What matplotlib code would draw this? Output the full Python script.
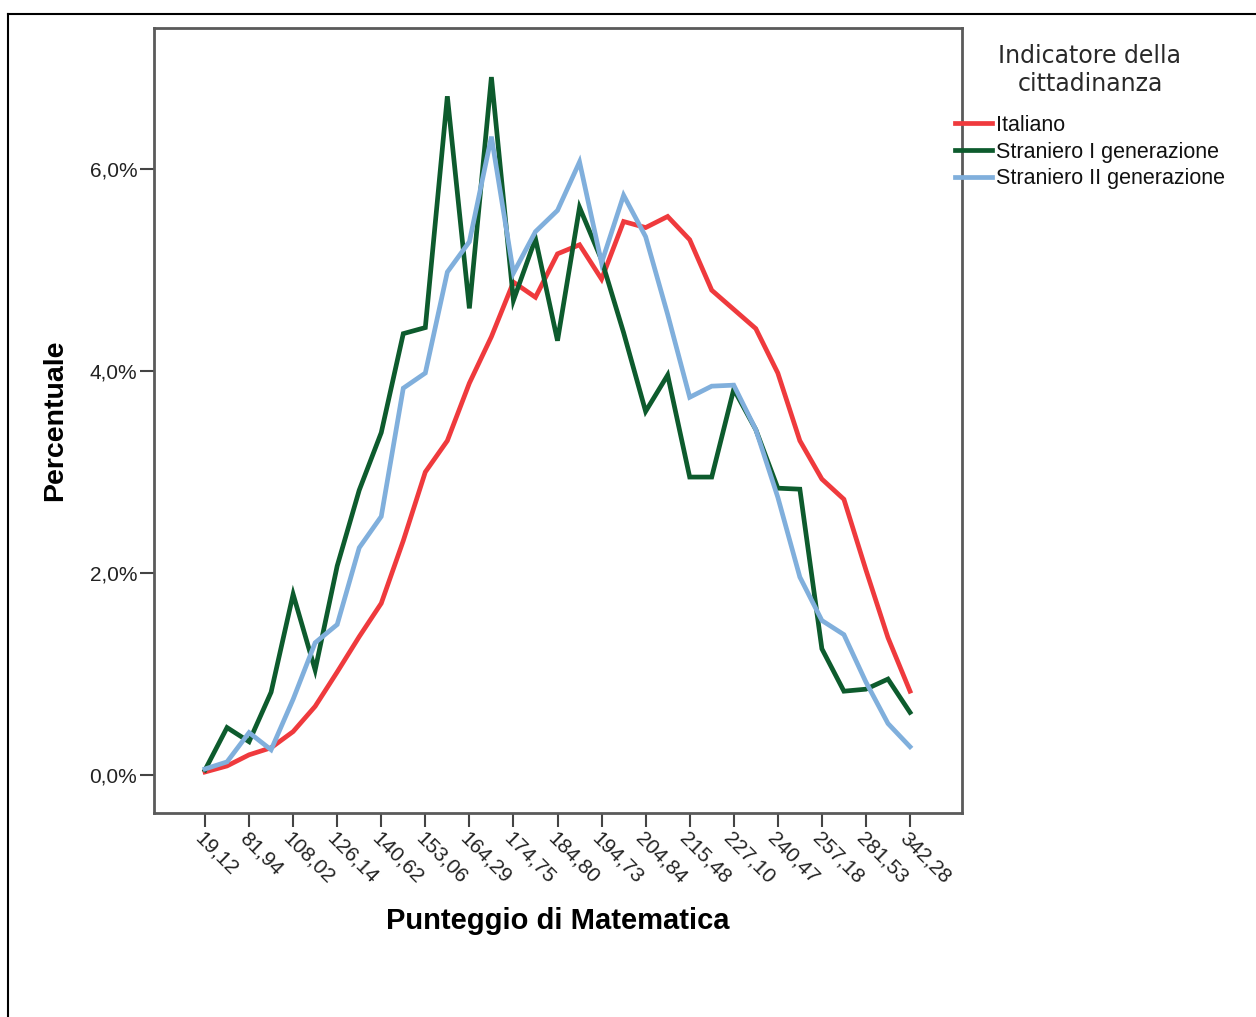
import matplotlib
matplotlib.use("Agg")
import matplotlib.pyplot as plt
from matplotlib.lines import Line2D
from matplotlib.ticker import FuncFormatter

# categorie dell'asse x (una etichetta ogni due punti)
tick_labels = ["19,12", "81,94", "108,02", "126,14", "140,62", "153,06", "164,29",
               "174,75", "184,80", "194,73", "204,84", "215,48", "227,10", "240,47",
               "257,18", "281,53", "342,28"]

# percentuali (33 punti)
italiano = [0.03, 0.09, 0.20, 0.27, 0.43, 0.68, 1.02, 1.37, 1.70, 2.32, 3.00,
            3.31, 3.88, 4.34, 4.88, 4.73, 5.16, 5.25, 4.91, 5.48, 5.42, 5.53,
            5.30, 4.80, 4.61, 4.42, 3.98, 3.31, 2.93, 2.73, 2.03, 1.36, 0.83]
straniero_1 = [0.05, 0.47, 0.33, 0.82, 1.79, 1.04, 2.07, 2.82, 3.39, 4.37, 4.43,
               6.72, 4.62, 6.91, 4.70, 5.31, 4.30, 5.62, 5.10, 4.38, 3.60, 3.96,
               2.95, 2.95, 3.82, 3.42, 2.84, 2.83, 1.25, 0.83, 0.85, 0.95, 0.62]
straniero_2 = [0.06, 0.13, 0.42, 0.25, 0.75, 1.31, 1.49, 2.25, 2.56, 3.83, 3.98,
               4.98, 5.28, 6.32, 4.97, 5.38, 5.59, 6.07, 5.07, 5.74, 5.33, 4.56,
               3.74, 3.85, 3.86, 3.42, 2.75, 1.96, 1.53, 1.39, 0.92, 0.51, 0.28]

series = [("Italiano", italiano, "#ef3a3d"),
          ("Straniero I generazione", straniero_1, "#0d5b2d"),
          ("Straniero II generazione", straniero_2, "#80afdc")]

W, H = 1256, 1017
fig = plt.figure(figsize=(W / 100, H / 100), dpi=100)
fig.patch.set_facecolor("white")

# bordo esterno (solo sopra e a sinistra sono visibili)
fig.add_artist(Line2D([8 / W, 8 / W], [0, 1 - 14 / H], transform=fig.transFigure,
                      color="black", lw=1.5))
fig.add_artist(Line2D([8 / W, 1], [1 - 14 / H, 1 - 14 / H], transform=fig.transFigure,
                      color="black", lw=1.5))

ax = fig.add_axes([154 / W, 1 - 813 / H, (962 - 154) / W, (813 - 28) / H])

x = list(range(len(italiano)))
handles = []
for name, vals, col in series:
    h, = ax.plot(x, vals, color=col, lw=3.4, label=name, solid_joinstyle="miter")
    handles.append(h)

ax.set_xlim(-2.315, 34.36)
ax.set_ylim(-0.376, 7.396)

ax.set_yticks([0, 2, 4, 6])
ax.yaxis.set_major_formatter(FuncFormatter(lambda v, p: ("%.1f%%" % v).replace(".", ",")))
ax.set_xticks(x[::2])
ax.set_xticklabels(tick_labels, rotation=-45, ha="left", va="top",
                   rotation_mode="anchor")

for s in ax.spines.values():
    s.set_color("#5a5a5a")
    s.set_linewidth(2)
ax.tick_params(axis="y", length=10, width=1.5, color="#444444", labelsize=15,
               labelcolor="#222222", pad=2)
ax.tick_params(axis="x", length=10, width=1.5, color="#444444", labelsize=15,
               labelcolor="#222222", pad=1)
for lab in ax.get_xticklabels() + ax.get_yticklabels():
    lab.set_family("Liberation Sans")

ax.set_ylabel("Percentuale", fontsize=20.5, fontweight="bold", family="Liberation Sans")
ax.set_xlabel("Punteggio di Matematica", fontsize=21, fontweight="bold",
              family="Liberation Sans")
ax.yaxis.set_label_coords(-(154 - 68) / (962 - 154), (813 - 420) / (813 - 28))
ax.xaxis.set_label_coords((558 - 154) / (962 - 154), -(907 - 813) / (813 - 28))

# legenda
fig.text(1090 / W, 1 - 70 / H, "Indicatore della\ncittadinanza", ha="center", va="center",
         fontsize=17, family="DejaVu Sans", color="#2a2a2a", linespacing=1.25)
leg = fig.legend(handles=handles, loc="upper left", bbox_to_anchor=(955 / W, 1 - 115 / H),
                 frameon=False, borderpad=0, borderaxespad=0, handlelength=1.7,
                 handletextpad=0.22, labelspacing=0.26,
                 prop={"family": "Liberation Sans", "size": 15.5})
for t in leg.get_texts():
    t.set_color("#111111")

fig.savefig("out.png", dpi=100, facecolor="white")
